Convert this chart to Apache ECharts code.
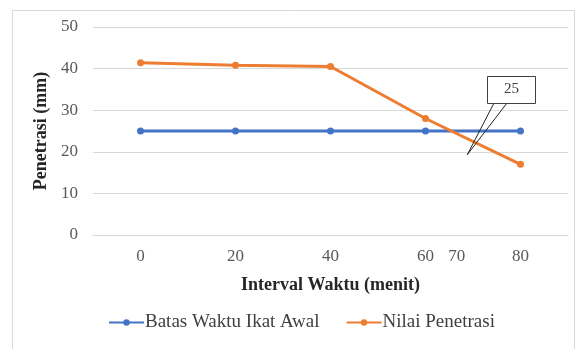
<!DOCTYPE html>
<html>
<head>
<meta charset="utf-8">
<script src="https://cdn.jsdelivr.net/npm/echarts@6/dist/echarts.min.js"></script>
<style>
  html, body { margin: 0; padding: 0; background: #fff; }
  #chart { width: 576px; height: 349px; }
</style>
</head>
<body>
<div id="chart"></div>
<script>
// Setting-time test: penetration depth against elapsed time
const categories = ['0', '20', '40', '60', '80'];
const batasWaktu = [25, 25, 25, 25, 25];          // initial setting limit (mm)
const nilaiPenetrasi = [41.4, 40.8, 40.5, 28, 17]; // measured penetration (mm)
const yTicks = { min: 0, max: 50, interval: 10 };

const crossingTimeLabel = '70';
const crossingValue = 25;

const serif = '"Liberation Serif", "Times New Roman", serif';
const chart = echarts.init(document.getElementById('chart'), null, { renderer: 'canvas' });

chart.setOption({
  animation: false,
  backgroundColor: '#ffffff',
  textStyle: { fontFamily: serif },
  grid: { left: 93, right: 8, top: 27, bottom: 114 },
  xAxis: {
    type: 'category',
    data: categories,
    boundaryGap: true,
    axisLine: { show: true, lineStyle: { color: '#d9d9d9', width: 1 } },
    axisTick: { show: false },
    axisLabel: { color: '#595959', fontSize: 17, fontFamily: serif, margin: 13 },
    name: 'Interval Waktu (menit)',
    nameLocation: 'middle',
    nameGap: 41,
    nameTextStyle: { color: '#262626', fontSize: 18, fontWeight: 'bold', fontFamily: serif }
  },
  yAxis: {
    type: 'value',
    min: yTicks.min,
    max: yTicks.max,
    interval: yTicks.interval,
    axisLine: { show: false },
    axisTick: { show: false },
    splitLine: { lineStyle: { color: '#d9d9d9', width: 1 } },
    axisLabel: { color: '#595959', fontSize: 17, fontFamily: serif, margin: 15 },
    name: 'Penetrasi (mm)',
    nameLocation: 'middle',
    nameGap: 37,
    nameTextStyle: { color: '#262626', fontSize: 18, fontWeight: 'bold', fontFamily: serif }
  },
  legend: {
    bottom: 12,
    left: 103,
    itemWidth: 35,
    itemHeight: 8,
    itemGap: 26,
    textStyle: { color: '#404040', fontSize: 19, fontFamily: serif, padding: [0, 0, 0, -4] },
    data: ['Batas Waktu Ikat Awal', 'Nilai Penetrasi']
  },
  series: [
    {
      name: 'Batas Waktu Ikat Awal',
      type: 'line',
      data: batasWaktu,
      symbol: 'circle',
      symbolSize: 7,
      lineStyle: { color: '#4472C4', width: 3 },
      itemStyle: { color: '#4472C4' },
      z: 2
    },
    {
      name: 'Nilai Penetrasi',
      type: 'line',
      data: nilaiPenetrasi,
      symbol: 'circle',
      symbolSize: 7,
      lineStyle: { color: '#ED7D31', width: 3 },
      itemStyle: { color: '#ED7D31' },
      z: 3
    }
  ]
});

// Fractional category position, interpolated between neighbouring categories
function xAt(pos) {
  const i = Math.min(Math.floor(pos), categories.length - 2);
  const a = chart.convertToPixel({ xAxisIndex: 0 }, i);
  const b = chart.convertToPixel({ xAxisIndex: 0 }, i + 1);
  return a + (pos - i) * (b - a);
}
function yAt(v) {
  return chart.convertToPixel({ yAxisIndex: 0 }, v);
}

const tickY = yAt(0);
const timeX = xAt(3.33);
const tip = [xAt(3.44), yAt(19.3)];
const boxCenter = [xAt(3.905), yAt(35)];
const boxW = 48, boxH = 27;
const bx = Math.round(boxCenter[0] - boxW / 2), by = Math.round(boxCenter[1] - boxH / 2);

chart.setOption({
  graphic: [
    {
      type: 'rect',
      silent: true,
      shape: { x: 12.5, y: 10.5, width: 562, height: 360 },
      style: { fill: 'none', stroke: '#d9d9d9', lineWidth: 1 },
      z: -1
    },
    {
      type: 'text',
      silent: true,
      x: timeX,
      y: tickY + 13,
      style: {
        text: crossingTimeLabel,
        fill: '#595959',
        font: '17px ' + serif,
        textAlign: 'center',
        textVerticalAlign: 'top'
      }
    },
    {
      type: 'polyline',
      silent: true,
      shape: { points: [[bx + 7, by + boxH], tip, [bx + 20, by + boxH]] },
      style: { stroke: '#262626', lineWidth: 1, fill: 'none' },
      z: 10
    },
    {
      type: 'rect',
      silent: true,
      shape: { x: bx + 0.5, y: by + 0.5, width: boxW, height: boxH },
      style: { fill: '#ffffff', stroke: '#404040', lineWidth: 1 },
      z: 10
    },
    {
      type: 'text',
      silent: true,
      x: boxCenter[0],
      y: boxCenter[1],
      style: {
        text: String(crossingValue),
        fill: '#404040',
        font: '15px ' + serif,
        textAlign: 'center',
        textVerticalAlign: 'middle'
      },
      z: 11
    }
  ]
});
</script>
</body>
</html>
